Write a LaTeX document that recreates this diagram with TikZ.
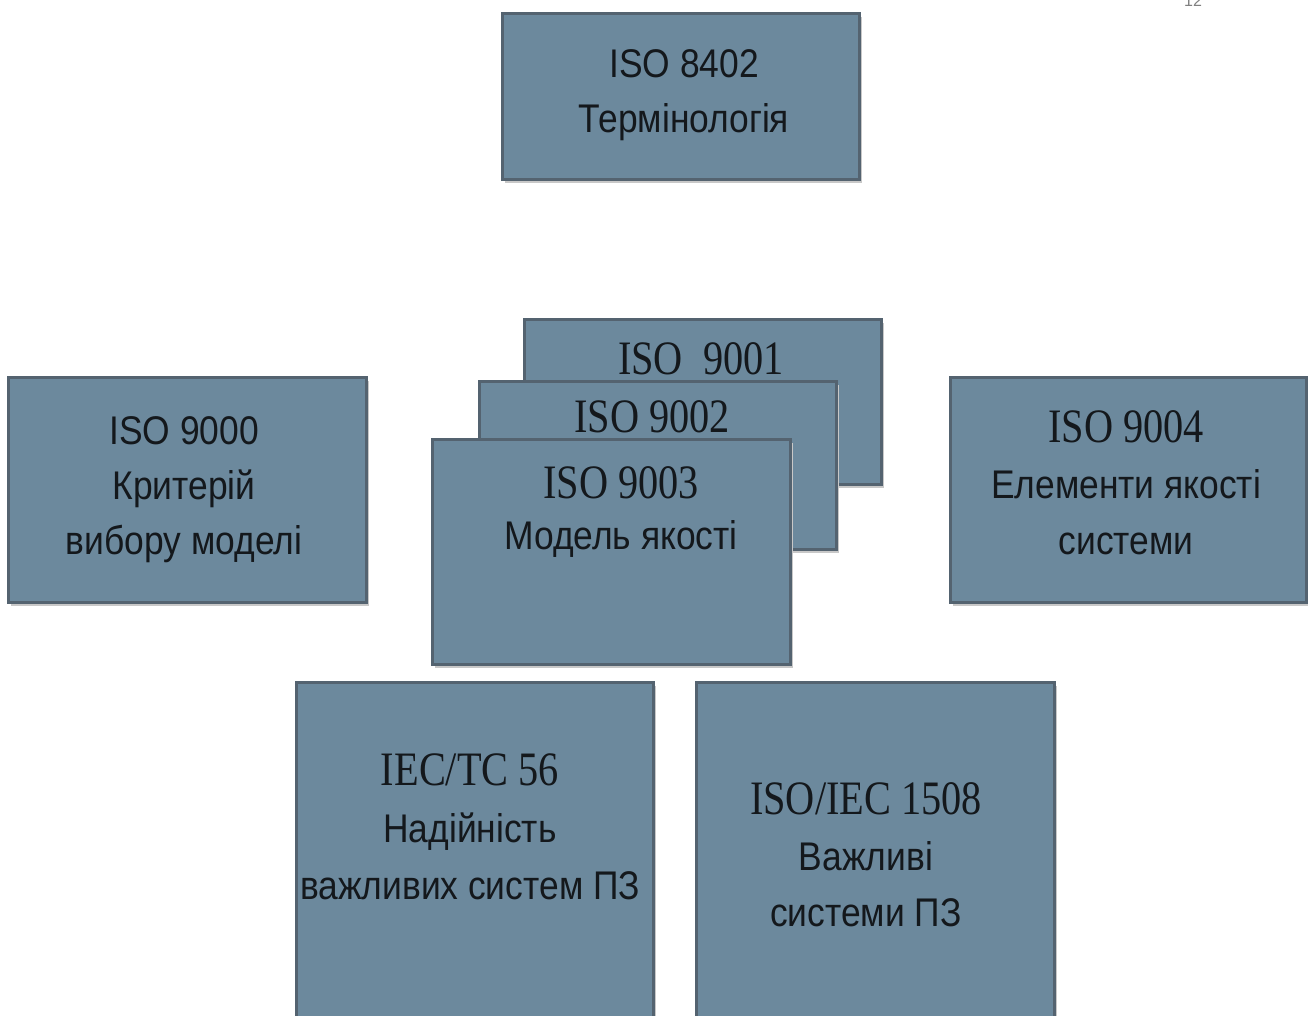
\documentclass[tikz,border=0pt]{standalone}
\usepackage{fontspec}
\setmainfont{Liberation Sans}
\newfontfamily\serifx{Liberation Serif}
\usetikzlibrary{shadows}
\definecolor{boxfill}{RGB}{108,137,157}
\definecolor{boxedge}{RGB}{84,99,112}
\definecolor{shade}{RGB}{200,200,200}
\definecolor{txt}{RGB}{20,24,28}
\newcommand{\sx}[1]{\scalebox{0.885}[1]{#1}}
\newcommand{\sr}[1]{\scalebox{0.84}[1]{\serifx\fontsize{48}{48}\selectfont #1}}
\begin{document}
\begin{tikzpicture}[x=1pt,y=-1pt,
  box/.style={rectangle, draw=boxedge, line width=2.5pt, fill=boxfill, inner sep=0pt,
    anchor=north west,
    drop shadow={shadow xshift=3pt, shadow yshift=-4pt, fill=shade, opacity=1}},
  lbl/.style={align=center, text=txt, inner sep=0pt, font=\fontsize{40}{55}\selectfont},
  pg/.style={text=gray, inner sep=0pt, font=\fontsize{16}{16}\selectfont}]
\useasboundingbox (0,0) rectangle (1308,1015);
\clip (0,0) rectangle (1308,1015);
\fill[white] (0,0) rectangle (1308,1015);

% page number fragment
\node[pg, anchor=base] (pnum) at (1193,6) {12};

% top box
\node[box, minimum width=357pt, minimum height=166pt] (b8402) at (501,12) {};
\node[lbl] (t8402) at (684,95) {\sx{ISO 8402}\\\sx{Термінологія}};

% left box
\node[box, minimum width=358pt, minimum height=225pt] (b9000) at (7,376) {};
\node[lbl] (t9000) at (184,490) {\sx{ISO 9000}\\\sx{Критерій}\\\sx{вибору моделі}};

% stacked boxes
\node[box, minimum width=357pt, minimum height=165pt] (b9001) at (523,318) {};
\node[lbl] (t9001) at (701,359) {\sr{ISO\ \ 9001}};
\node[box, minimum width=357pt, minimum height=168pt] (b9002) at (478,380) {};
\node[lbl] (t9002) at (652,417) {\sr{ISO 9002}};
\node[box, minimum width=358pt, minimum height=225pt] (b9003) at (431,438) {};
\node[lbl, font=\fontsize{40}{51}\selectfont] (t9003) at (621,512) {\sr{ISO 9003}\\\sx{Модель якості}};

% right box
\node[box, minimum width=356pt, minimum height=225pt] (b9004) at (949,376) {};
\node[lbl, font=\fontsize{40}{56}\selectfont] (t9004) at (1126,483) {\sr{ISO 9004}\\\sx{Елементи якості}\\\sx{системи}};

% bottom boxes
\node[box, minimum width=357pt, minimum height=360pt] (b56) at (295,681) {};
\node[lbl, font=\fontsize{40}{57}\selectfont] (t56) at (470,827) {\sr{IEC/TC 56}\\\sx{Надійність}\\\sx{важливих систем ПЗ}};
\node[box, minimum width=358pt, minimum height=360pt] (b1508) at (695,681) {};
\node[lbl, font=\fontsize{40}{56}\selectfont] (t1508) at (866,855) {\sr{ISO/IEC 1508}\\\sx{Важливі}\\\sx{системи ПЗ}};
\end{tikzpicture}
\end{document}
